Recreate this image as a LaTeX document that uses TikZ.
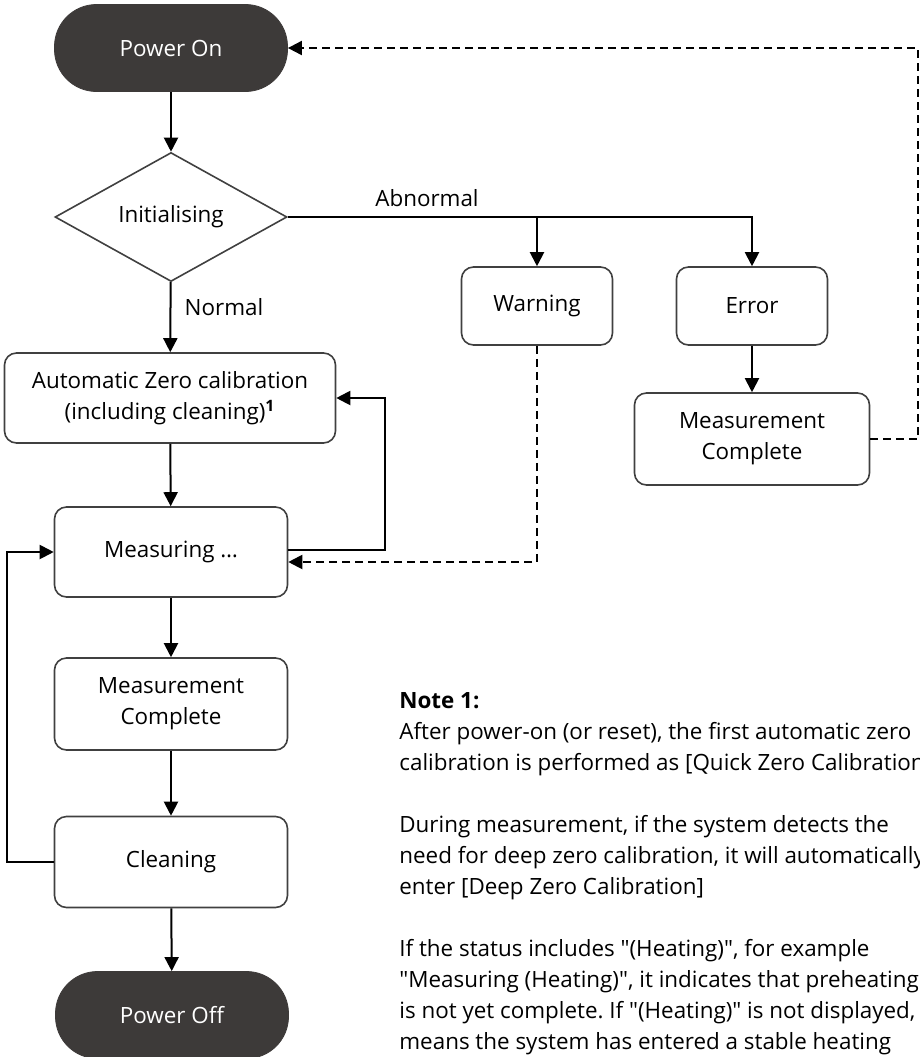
\documentclass[tikz,border=0pt]{standalone}
\usepackage{fontspec}
\setmainfont{Open Sans}
\usepackage{tikz}
\usetikzlibrary{calc,shapes,positioning}
\usetikzlibrary{arrows.meta}
\tikzset{>={Triangle[width=7pt,length=7pt]}}
\definecolor{pilldark}{HTML}{3D3A39}
\definecolor{boxline}{HTML}{404040}
\frenchspacing

\begin{document}
\begin{tikzpicture}[x=0.5pt,y=-0.5pt]
      \tikzstyle{pill} = [draw=pilldark, fill=pilldark, text=white, rounded corners = 21pt, minimum width=116.5pt, minimum height=43.5pt, inner sep=0pt, align=center]
      \tikzstyle{snode} = [draw=boxline, line width=0.8pt, rectangle, rounded corners = 6pt, inner sep=0pt, align=center]
      \tikzstyle{dnode} = [draw=boxline, line width=0.8pt, diamond, minimum width=116pt, minimum height=64.5pt, inner sep=0pt]
      \tikzstyle{link} = [->, line width=1pt]
      \tikzstyle{dlink} = [->, line width=1pt, dash pattern=on 4pt off 2.5pt]
      \useasboundingbox (0,0) rectangle (920,1057);
      \clip (0,0) rectangle (920,1057);
      \fontsize{11.2}{15.5}\selectfont

      \node[pill] (on) at (171,48) {Power On};
      \node[dnode] (init) at (171,217) {Initialising};
      \node[snode, minimum width=165.5pt, minimum height=45pt] (auto) at (170,398) {Automatic Zero calibration\\(including cleaning)\textsuperscript{\bfseries 1}};
      \node[snode, minimum width=116.5pt, minimum height=45pt] (meas) at (171,552) {Measuring \ldots};
      \node[snode, minimum width=116.5pt, minimum height=46pt] (mc1) at (171,704) {Measurement\\Complete};
      \node[snode, minimum width=116.5pt, minimum height=45.5pt] (clean) at (171,862) {Cleaning};
      \node[pill] (off) at (172,1015) {Power Off};

      \node[snode, minimum width=75.5pt, minimum height=39pt] (warn) at (537,306) {Warning};
      \node[snode, minimum width=75.5pt, minimum height=39pt] (err) at (752,306) {Error};
      \node[snode, minimum width=117.5pt, minimum height=46pt] (mc2) at (752,439) {Measurement\\Complete};

      \node[] (abnlabel) at (427,198) {Abnormal};
      \node[] (normlabel) at (224,307) {Normal};
      \coordinate (abn) at (537,217);
      \coordinate (rt) at (918,48);

      % main column
      \draw[link] (on) -- (init);
      \draw[link] (init) -- (auto);
      \draw[link] (auto) -- (meas);
      \draw[link] (meas) -- (mc1);
      \draw[link] (mc1) -- (clean);
      \draw[link] (clean) -- (off);

      % abnormal branch
      \draw[link] (init.east) -| (err.north);
      \draw[link] (abn) -- (warn.north);
      \draw[link] (err) -- (mc2);

      % loops
      \draw[link] ([yshift=1pt]meas.east) -- ++(48.5pt,0) |- (auto.east);
      \draw[link] (clean.west) -- ++(-23.5pt,0) |- (meas.west);
      \draw[dlink] (warn.south) |- ([yshift=-5pt]meas.east);
      \draw[dlink] (mc2.east) -| (rt) -- (on.east);

      % note
      \node[anchor=north west, align=left, inner sep=0pt] (note) at (399,692) {\textbf{Note 1:}\\
        After power-on (or reset), the first automatic zero\\
        calibration is performed as [Quick Zero Calibration]\\[15.5pt]
        During measurement, if the system detects the\\
        need for deep zero calibration, it will automatically\\
        enter [Deep Zero Calibration]\\[15.5pt]
        If the status includes \textquotedbl(Heating)\textquotedbl, for example\\
        \textquotedbl Measuring (Heating)\textquotedbl, it indicates that preheating\\
        is not yet complete. If \textquotedbl(Heating)\textquotedbl\ is not displayed, it\\
        means the system has entered a stable heating};
\end{tikzpicture}
\end{document}
